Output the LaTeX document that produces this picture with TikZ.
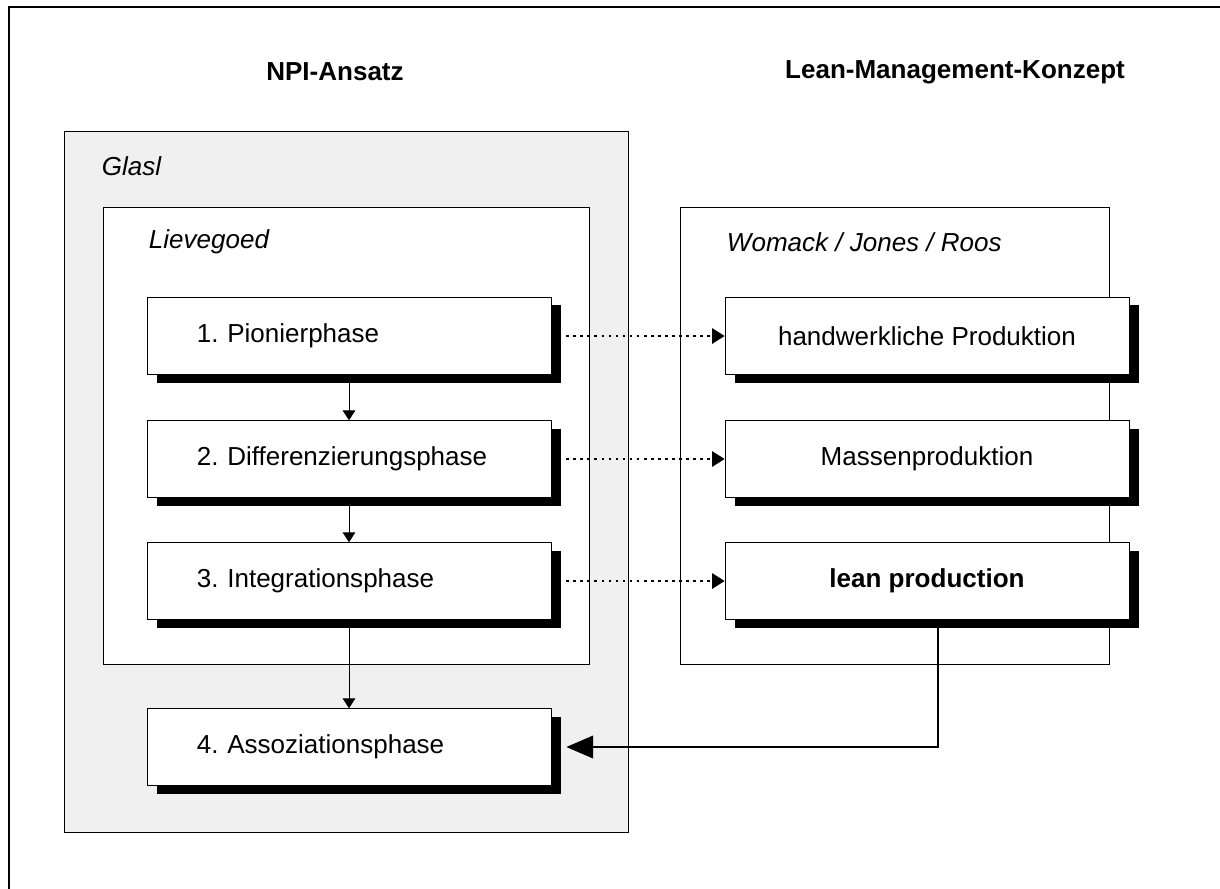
\documentclass[tikz,border=0pt]{standalone}
\usepackage{fontspec}
\setmainfont{Liberation Sans}
\usetikzlibrary{arrows.meta,shadows}

\newcommand\boxfont{\fontsize{18.5}{22}\selectfont}

\tikzset{
  boxshadow/.style={drop shadow={shadow xshift=0.25cm, shadow yshift=-0.2cm, fill=black, opacity=1}},
  phasebox/.style={draw, fill=white, minimum height=1.925cm, text width=7.6cm,
    inner xsep=1.25cm, align=left, boxshadow},
  stagebox/.style={draw, fill=white, minimum height=1.925cm, minimum width=10.1cm, boxshadow},
  groupbox/.style={draw, line width=0.6pt},
  grouplabel/.style={anchor=west, font=\boxfont\itshape},
  titlelabel/.style={font=\boxfont\bfseries},
  smallarrow/.style={line width=0.6pt, -{Triangle[length=7pt,width=9pt]}},
  dotarrow/.style={line width=1.2pt, dash pattern=on 2pt off 3pt, -{Triangle[length=9pt,width=11pt]}},
  bigarrow/.style={line width=1.4pt, -{Triangle[length=19pt,width=16pt]}}
}

\begin{document}
\begin{tikzpicture}[x=0.025cm, y=-0.025cm, font=\boxfont]
  \useasboundingbox (0,0) rectangle (1220,888);
  \clip (0,0) rectangle (1220,888);
  \fill[white] (0,0) rectangle (1220,888);
  \draw[line width=1.4pt] (9,7) rectangle (1240,900);

  % column titles
  \node[titlelabel] (npi) at (335,72) {NPI-Ansatz};
  \node[titlelabel] (leantitle) at (955,72) {Lean-Management-Konzept};

  % frames
  \draw[groupbox, fill=gray!12] (64,131) rectangle (628,832);
  \node[grouplabel] (glasl) at (97,166) {Glasl};
  \draw[groupbox, fill=white] (103,207) rectangle (589,664);
  \node[grouplabel] (lievegoed) at (144,242) {Lievegoed};
  \draw[groupbox, fill=white] (680,207) rectangle (1109,664);
  \node[grouplabel] (womack) at (722,242) {Womack / Jones / Roos};

  % phases
  \node[phasebox] (pionier) at (349,336) {1.\ Pionierphase};
  \node[phasebox] (diff) at (349,459) {2.\ Differenzierungsphase};
  \node[phasebox] (integ) at (349,581) {3.\ Integrationsphase};
  \node[phasebox] (assoz) at (349,747) {4.\ Assoziationsphase};

  \node[stagebox] (hand) at (927,336) {handwerkliche Produktion};
  \node[stagebox] (masse) at (927,459) {Massenproduktion};
  \node[stagebox, font=\boxfont\bfseries] (leanprod) at (927,581) {lean production};

  \draw[smallarrow] (pionier) -- (diff);
  \draw[smallarrow] (diff) -- (integ);
  \draw[smallarrow] (integ) -- (assoz);

  \foreach \a/\b in {pionier/hand, diff/masse, integ/leanprod}{
    \draw[dotarrow] ([xshift=0.375cm]\a.east) -- (\b.west);
  }

  \draw[bigarrow] ([xshift=0.28cm, yshift=-0.2cm]leanprod.south) |- ([xshift=0.375cm]assoz.east);
\end{tikzpicture}
\end{document}
